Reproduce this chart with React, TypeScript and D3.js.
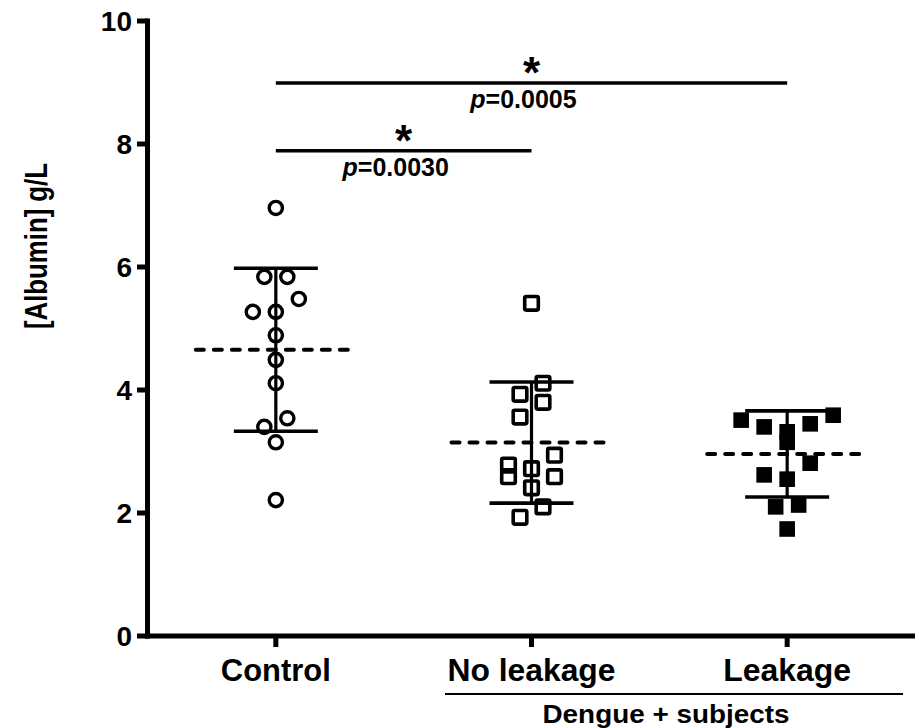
import React from "react";
import * as d3 from "d3";

// values (g/L)
const groups = ["Control", "No leakage", "Leakage"];
const controlValues = [6.96, 5.84, 5.84, 5.48, 5.27, 5.27, 4.89, 4.49, 4.11, 3.54, 3.4, 3.15, 2.21];
const noLeakageValues = [5.41, 4.11, 3.93, 3.8, 3.56, 2.94, 2.78, 2.72, 2.59, 2.59, 2.41, 2.1, 1.93];
const leakageValues = [3.59, 3.51, 3.45, 3.4, 3.32, 3.15, 2.81, 2.62, 2.55, 2.13, 2.1, 1.74];
const groupMeans = [4.655, 3.145, 2.96];
const groupSds = [1.325, 0.985, 0.7];
const yTicks = [0, 2, 4, 6, 8, 10];
const compFrom = ["Control", "Control"];
const compTo = ["No leakage", "Leakage"];
const compP = ["0.0030", "0.0005"];
const compLevel = [7.89, 8.99];

const W = 915;
const H = 728;
const FONT = "'Liberation Sans', Arial, Helvetica, sans-serif";

const x = d3.scalePoint<string>().domain(groups).range([148, 915]).padding(0.5);
const y = d3.scaleLinear().domain([0, 10]).range([636, 21]);

const SLOT = 23; // horizontal spacing between side-by-side markers
const ROW = 17; // markers closer than this vertically share a row

// simple scatter-dot layout: points that would overlap vertically go in one row, spread symmetrically
function dodge(values: number[]) {
  const sorted = values.map((v, i) => ({ v, i })).sort((a, b) => b.v - a.v);
  const rows: { v: number; i: number }[][] = [];
  sorted.forEach((p) => {
    const last = rows[rows.length - 1];
    if (last && y(p.v) - y(last[0].v) < ROW) last.push(p);
    else rows.push([p]);
  });
  const out: { v: number; dx: number }[] = [];
  rows.forEach((row) => {
    const n = row.length;
    const slots = d3.range(n).map((k) => (k - (n - 1) / 2) * SLOT);
    slots.sort((a, b) => Math.abs(b) - Math.abs(a) || b - a);
    row.forEach((p, k) => out.push({ v: p.v, dx: slots[k] }));
  });
  return out;
}

const series = [controlValues, noLeakageValues, leakageValues];
const labelWidths = [110, 168, 128];

export default function App() {
  const capHalf = 42;
  const meanHalf = 80;
  return (
    <svg
      width={W}
      height={H}
      style={{ position: "absolute", left: 0, top: 0, display: "block", background: "#fff" }}
      fontFamily={FONT}
      fontWeight="bold"
    >
      {/* markers */}
      {series.map((vals, gi) => {
        const cx = x(groups[gi])!;
        return (
          <g key={gi}>
            {dodge(vals).map((p, k) => {
              const px = cx + p.dx;
              const py = y(p.v);
              if (gi === 0)
                return <circle key={k} cx={px} cy={py} r={6.6} fill="none" stroke="#000" strokeWidth={3.4} />;
              if (gi === 1)
                return (
                  <rect key={k} x={px - 6.8} y={py - 6.8} width={13.6} height={13.6} rx={1.5}
                    fill="none" stroke="#000" strokeWidth={3.6} />
                );
              return <rect key={k} x={px - 7.8} y={py - 7.8} width={15.6} height={15.6} fill="#000" />;
            })}
          </g>
        );
      })}

      {/* mean (dashed) and SD bars */}
      {groups.map((g, gi) => {
        const cx = x(g)!;
        const m = groupMeans[gi];
        const s = groupSds[gi];
        return (
          <g key={g} stroke="#000">
            <line x1={cx} x2={cx} y1={y(m + s)} y2={y(m - s)} strokeWidth={3.2} />
            <line x1={cx - capHalf} x2={cx + capHalf} y1={y(m + s)} y2={y(m + s)} strokeWidth={3.6} />
            <line x1={cx - capHalf} x2={cx + capHalf} y1={y(m - s)} y2={y(m - s)} strokeWidth={3.6} />
            <line x1={cx - meanHalf} x2={cx + meanHalf} y1={y(m)} y2={y(m)} strokeWidth={4}
              strokeDasharray="8 10" strokeLinecap="round" />
          </g>
        );
      })}

      {/* axes */}
      <line x1={147.5} x2={147.5} y1={y(10) - 2.5} y2={y(0) + 2.5} stroke="#000" strokeWidth={5} />
      <line x1={145} x2={W} y1={y(0)} y2={y(0)} stroke="#000" strokeWidth={5} />
      {yTicks.map((t) => (
        <g key={t}>
          <line x1={137} x2={148} y1={y(t)} y2={y(t)} stroke="#000" strokeWidth={5} />
          <text x={132} y={y(t)} dy="0.36em" textAnchor="end" fontSize={28}>{t}</text>
        </g>
      ))}
      {groups.map((g, gi) => (
        <g key={g}>
          <line x1={x(g)!} x2={x(g)!} y1={y(0)} y2={y(0) + 11} stroke="#000" strokeWidth={5} />
          <text x={x(g)!} y={681} textAnchor="middle" fontSize={32}
            textLength={labelWidths[gi]} lengthAdjust="spacingAndGlyphs">{g}</text>
        </g>
      ))}

      {/* dengue bracket */}
      <line x1={445} x2={903} y1={694} y2={694} stroke="#000" strokeWidth={2} />
      <text x={666} y={723} textAnchor="middle" fontSize={26} textLength={247} lengthAdjust="spacingAndGlyphs">
        Dengue + subjects
      </text>

      {/* y title */}
      <text transform={`translate(35, 246) rotate(-90)`} textAnchor="middle" dy="0.36em" fontSize={32}
        textLength={166} lengthAdjust="spacingAndGlyphs">
        [Albumin] g/L
      </text>

      {/* significance: star above the bar, p value below, one text element */}
      {compFrom.map((f, i) => {
        const x1 = x(f)!;
        const x2 = x(compTo[i])!;
        const mid = (x1 + x2) / 2;
        const ly = y(compLevel[i]);
        return (
          <g key={i}>
            <line x1={x1} x2={x2} y1={ly} y2={ly} stroke="#000" strokeWidth={3.5} />
            <text textAnchor="middle">
              <tspan x={mid} y={ly + 5} fontSize={44}>*</tspan>
              <tspan x={mid - 8} y={ly + 25} fontSize={25}>
                <tspan fontStyle="italic">p</tspan>={compP[i]}
              </tspan>
            </text>
          </g>
        );
      })}
    </svg>
  );
}
